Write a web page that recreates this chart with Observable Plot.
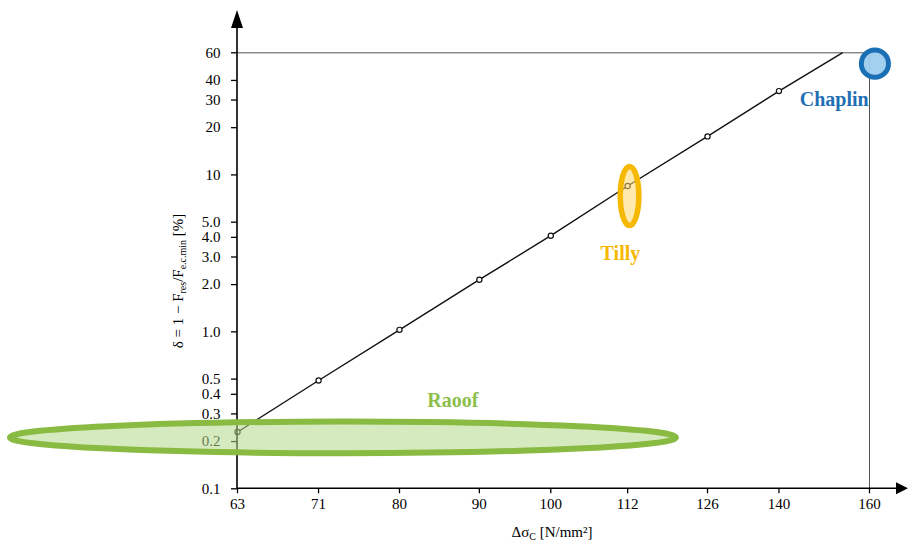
<!DOCTYPE html>
<html>
<head>
<meta charset="utf-8">
<script src="https://cdn.jsdelivr.net/npm/d3@7"></script>
<script src="https://cdn.jsdelivr.net/npm/@observablehq/plot@0.6"></script>
<style>
  html, body { margin: 0; padding: 0; background: #fff; }
  svg { display: block; }
</style>
</head>
<body>
<div id="chart"></div>
<script>
// ---- data ----
const xTicks = [63, 71, 80, 90, 100, 112, 126, 140, 160];
const yTicks = [0.1, 0.2, 0.3, 0.4, 0.5, 1, 2, 3, 4, 5, 10, 20, 30, 40, 60];
const yTickLabels = ["0.1", "0.2", "0.3", "0.4", "0.5", "1.0", "2.0", "3.0", "4.0", "5.0", "10", "20", "30", "40", "60"];
const stress = [63, 71, 80, 90, 100, 112, 126, 140];
const delta = [0.23, 0.49, 1.03, 2.15, 4.1, 8.5, 17.6, 34.2];
const lineEndStress = 153.7;
const lineEndDelta = 60;
const limitStress = 160;
const limitDelta = 60;
const groupNames = ["Raoof", "Tilly", "Chaplin"];
const groupStress = [73.65, 112.4, 161.4];
const groupDelta = [0.211, 7.29, 50.8];
const labelStress = [86.6, 110.9, 152];
const labelDelta = [0.33, 2.85, 27.3];

// ---- build tables ----
const points = stress.map((s, i) => ({x: s, y: delta[i]}));
const linePts = points.concat([{x: lineEndStress, y: lineEndDelta}]);
const yLabelRows = yTicks.map((v, i) => ({v, label: yTickLabels[i]}));

const FONT = "'Liberation Serif', 'Times New Roman', serif";

const plot = Plot.plot({
  width: 908,
  height: 544,
  marginLeft: 237,
  marginRight: 39,
  marginTop: 52.3,
  marginBottom: 55.7,
  style: {fontFamily: FONT, fontSize: "15px", color: "#000", background: "#fff"},
  x: {type: "log", domain: [63, 160]},
  y: {type: "log", domain: [0.1, 60]},
  marks: [
    Plot.ruleY([limitDelta], {x1: 63, x2: limitStress, stroke: "#555", strokeWidth: 1}),
    Plot.ruleX([limitStress], {y1: 0.1, y2: limitDelta, stroke: "#555", strokeWidth: 1}),
    Plot.axisX(xTicks, {tickSize: 5, tickFormat: () => "", label: null, strokeWidth: 1.3}),
    Plot.axisY(yTicks, {tickSize: 6, tickFormat: () => "", label: null, strokeWidth: 1.3}),
    Plot.text(xTicks, {x: d => d, frameAnchor: "bottom", lineAnchor: "top", dy: 10, text: d => String(d), fontSize: 15, fill: "#000"}),
    Plot.text(yLabelRows, {y: "v", frameAnchor: "left", textAnchor: "end", dx: -17, text: "label", fontSize: 15, fill: "#000"}),
    Plot.line(linePts, {x: "x", y: "y", stroke: "#111", strokeWidth: 1.4}),
    Plot.dot(points, {x: "x", y: "y", r: 2.6, fill: "#fff", stroke: "#111", strokeWidth: 1.2})
  ]
});

document.getElementById("chart").appendChild(plot);

const svg = d3.select(plot);
const xs = plot.scale("x").apply;
const ys = plot.scale("y").apply;
const x0 = xs(63), y0 = ys(0.1);

// axis lines with arrows
const ax = svg.append("g");
ax.append("line").attr("x1", x0).attr("x2", x0).attr("y1", y0).attr("y2", 26)
  .attr("stroke", "#000").attr("stroke-width", 1.6);
ax.append("polygon").attr("points", `${x0},10 ${x0 - 6},28 ${x0 + 6},28`).attr("fill", "#000");
ax.append("line").attr("x1", x0).attr("x2", 896).attr("y1", y0).attr("y2", y0)
  .attr("stroke", "#000").attr("stroke-width", 1.6);
ax.append("polygon").attr("points", `908,${y0} 896,${y0 - 6} 896,${y0 + 6}`).attr("fill", "#000");

// annotation ellipses
const shapes = [
  {rx: 333, ry: 15.8, stroke: "#89ba41", fill: "#b5d88a", op: 0.55, sw: 6},
  {rx: 9.3, ry: 29.5, stroke: "#f6b800", fill: "#ffd76a", op: 0.55, sw: 5.5},
  {rx: 13.6, ry: 13.6, stroke: "#1b70b5", fill: "#9fcdef", op: 0.95, sw: 5}
];
const labelColors = ["#8dbf4c", "#f6b800", "#1f6fb3"];
const ann = svg.append("g");
groupNames.forEach((name, i) => {
  const s = shapes[i];
  ann.append("ellipse")
    .attr("cx", xs(groupStress[i])).attr("cy", ys(groupDelta[i]))
    .attr("rx", s.rx).attr("ry", s.ry)
    .attr("fill", s.fill).attr("fill-opacity", s.op)
    .attr("stroke", s.stroke).attr("stroke-width", s.sw);
  ann.append("text")
    .attr("x", xs(labelStress[i])).attr("y", ys(labelDelta[i]))
    .attr("text-anchor", "middle")
    .attr("font-family", FONT).attr("font-weight", "bold").attr("font-size", 20)
    .attr("fill", labelColors[i])
    .text(name);
});

// axis titles
const xt = svg.append("text")
  .attr("x", 552).attr("y", 537).attr("text-anchor", "middle")
  .attr("font-family", FONT).attr("font-size", 15).attr("fill", "#000");
xt.append("tspan").text("Δσ");
xt.append("tspan").attr("font-size", 10).attr("dy", 3).text("C");
xt.append("tspan").attr("dy", -3).text(" [N/mm²]");

const yt = svg.append("text")
  .attr("transform", "translate(183,281) rotate(-90)")
  .attr("text-anchor", "middle")
  .attr("font-family", FONT).attr("font-size", 15).attr("fill", "#000");
yt.append("tspan").text("δ = 1 − F");
yt.append("tspan").attr("font-size", 10).attr("dy", 3).text("res");
yt.append("tspan").attr("dy", -3).text("/F");
yt.append("tspan").attr("font-size", 10).attr("dy", 3).text("e.c.min");
yt.append("tspan").attr("dy", -3).text(" [%]");
</script>
</body>
</html>
